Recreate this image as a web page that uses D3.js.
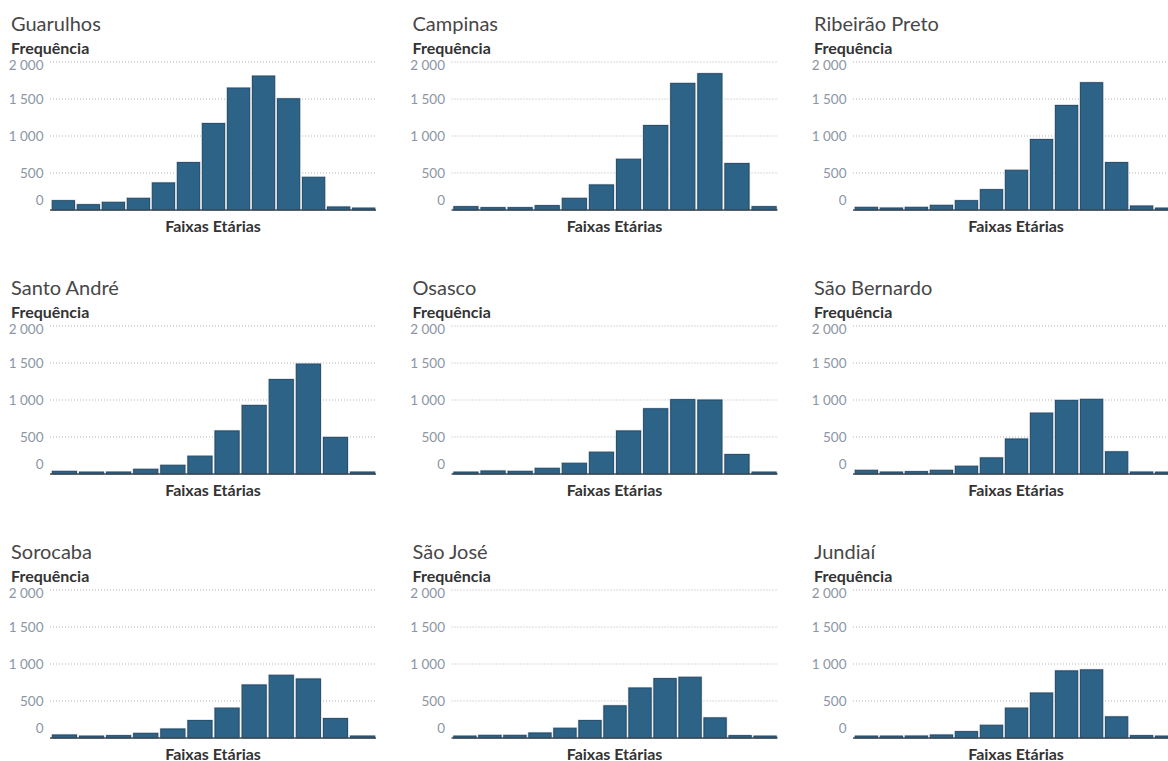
<!DOCTYPE html>
<html lang="pt-BR">
<head>
<meta charset="utf-8">
<script src="https://cdn.jsdelivr.net/npm/d3@7"></script>
<style>
  html, body { margin: 0; padding: 0; background: #ffffff; overflow: hidden; }
  svg { display: block; }
</style>
</head>
<body>
<svg id="chart" width="1168" height="761"></svg>
<script>
// Frequência por faixa etária, uma pequena série por município
const cidades = ["Guarulhos", "Campinas", "Ribeirão Preto",
                 "Santo André", "Osasco", "São Bernardo",
                 "Sorocaba", "São José", "Jundiaí"];

const guarulhos     = [126, 72, 104, 158, 366, 641, 1169, 1648, 1810, 1503, 442, 41, 18];
const campinas      = [45, 32, 32, 59, 158, 339, 686, 1142, 1711, 1842, 628, 45];
const ribeiraoPreto = [36, 27, 36, 63, 126, 275, 537, 953, 1413, 1720, 641, 54, 18];
const santoAndre    = [36, 18, 23, 64, 118, 241, 582, 927, 1277, 1486, 495, 23];
const osasco        = [18, 41, 36, 77, 145, 295, 582, 882, 1005, 1000, 264, 18];
const saoBernardo   = [50, 23, 32, 50, 105, 218, 473, 823, 995, 1009, 300, 27, 14];
const sorocaba      = [41, 18, 32, 63, 122, 236, 404, 717, 848, 798, 263, 23];
const saoJose       = [18, 36, 36, 68, 132, 236, 435, 676, 803, 821, 272, 32, 18];
const jundiai       = [18, 18, 27, 41, 86, 172, 404, 608, 907, 921, 286, 32, 18];

const series = [guarulhos, campinas, ribeiraoPreto,
                santoAndre, osasco, saoBernardo,
                sorocaba, saoJose, jundiai];

const yTicks = [0, 500, 1000, 1500, 2000];
const yMax = 2000;
const rotuloY = "Frequência";
const rotuloX = "Faixas Etárias";

// layout of the 3 x 3 grid of small multiples
const colX = [0, 401.5, 803];
const rowY = [0, 264, 528];
const plotOffsetX = 50, plotWidth = 326;
const plotTop = 62, plotBottom = 210;

const fmt = v => d3.format(",")(v).replace(/,/g, " ");
const font = "Lato, 'Open Sans', sans-serif";

const svg = d3.select("#chart");

cidades.forEach((nome, i) => {
  const ox = colX[i % 3], oy = rowY[Math.floor(i / 3)];
  const valores = series[i];
  const g = svg.append("g").attr("transform", `translate(${ox},${oy})`);

  const x = d3.scaleBand()
    .domain(valores.map((_, k) => k))
    .range([plotOffsetX + 1, plotOffsetX + plotWidth])
    .paddingInner(0.11)
    .paddingOuter(0.05);

  const y = d3.scaleLinear().domain([0, yMax]).range([plotBottom, plotTop]);

  // title
  g.append("text")
    .attr("x", 11).attr("y", 31)
    .attr("font-family", font).attr("font-weight", 400)
    .attr("font-size", 20).attr("fill", "#474747")
    .text(nome);

  // y-axis title
  g.append("text")
    .attr("x", 11).attr("y", 54)
    .attr("font-family", font).attr("font-weight", 700)
    .attr("font-size", 16).attr("fill", "#333333")
    .text(rotuloY);

  // dotted gridlines
  g.append("g").selectAll("line")
    .data(yTicks.filter(t => t > 0))
    .join("line")
      .attr("x1", plotOffsetX).attr("x2", plotOffsetX + plotWidth)
      .attr("y1", d => y(d)).attr("y2", d => y(d))
      .attr("stroke", "#b3b3b3").attr("stroke-width", 1)
      .attr("stroke-dasharray", "1 2");

  // y tick labels, kept inside the plot band at both ends
  g.append("g").selectAll("text")
    .data(yTicks)
    .join("text")
      .attr("x", 43.5)
      .attr("y", d => d === yMax ? y(d) + 8 : (d === 0 ? y(d) - 5 : y(d) + 5))
      .attr("text-anchor", "end")
      .attr("font-family", font).attr("font-size", 13.5)
      .attr("fill", "#8a95a5")
      .text(d => fmt(d));

  // bars: soft halo, then the filled bar with a darker edge
  const barras = g.append("g");
  barras.selectAll("rect.halo")
    .data(valores)
    .join("rect")
      .attr("class", "halo")
      .attr("x", (d, k) => x(k) - 0.5)
      .attr("y", d => y(d) - 0.5)
      .attr("width", x.bandwidth() + 1)
      .attr("height", d => plotBottom - y(d) + 0.5)
      .attr("fill", "none")
      .attr("stroke", "#cfd6dd").attr("stroke-width", 1.2);
  barras.selectAll("rect.barra")
    .data(valores)
    .join("rect")
      .attr("class", "barra")
      .attr("x", (d, k) => x(k))
      .attr("y", d => Math.min(y(d), plotBottom - 2))
      .attr("width", x.bandwidth())
      .attr("height", d => Math.max(plotBottom - y(d), 2))
      .attr("fill", "#2e6388")
      .attr("stroke", "#1f4663").attr("stroke-width", 0.9);

  // baseline
  g.append("line")
    .attr("x1", plotOffsetX).attr("x2", plotOffsetX + plotWidth)
    .attr("y1", plotBottom).attr("y2", plotBottom)
    .attr("stroke", "#3f4a55").attr("stroke-width", 1.4);

  // x-axis title
  g.append("text")
    .attr("x", plotOffsetX + plotWidth / 2).attr("y", 232)
    .attr("text-anchor", "middle")
    .attr("font-family", font).attr("font-weight", 700)
    .attr("font-size", 16).attr("fill", "#333333")
    .text(rotuloX);
});
</script>
</body>
</html>
